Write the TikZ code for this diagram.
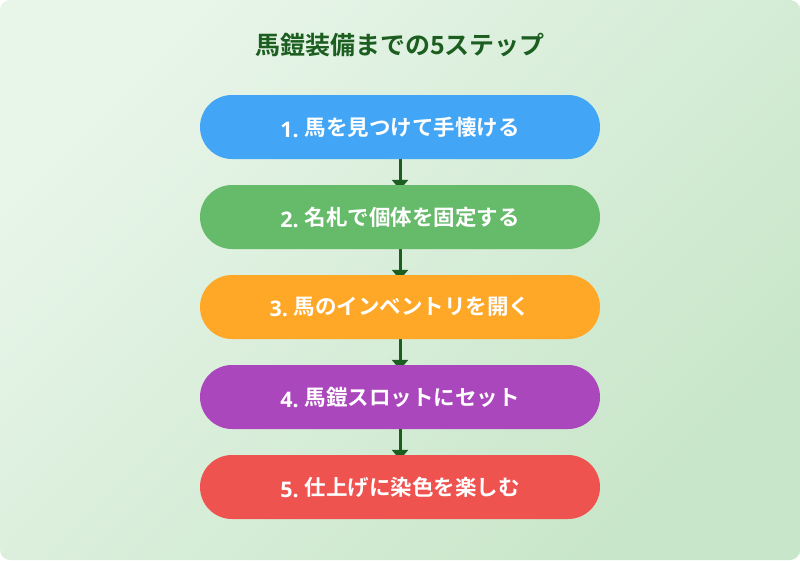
\documentclass[tikz,border=0pt]{standalone}
\usepackage{fontspec}
\newfontfamily\jpb{Noto Sans CJK JP Bold}
\newfontfamily\latb{Open Sans}[UprightFont=* Bold]
\usetikzlibrary{arrows.meta}
\definecolor{bgA}{HTML}{E8F5E9}
\definecolor{bgB}{HTML}{C8E6C9}
\definecolor{ttl}{HTML}{1B5E20}
\definecolor{cA}{HTML}{42A5F5}
\definecolor{cB}{HTML}{66BB6A}
\definecolor{cC}{HTML}{FFA726}
\definecolor{cD}{HTML}{AB47BC}
\definecolor{cE}{HTML}{EF5350}
\pgfdeclarelayer{bg}
\pgfdeclarelayer{mid}
\pgfsetlayers{bg,mid,main}
\tikzset{
  stepbox/.style={rounded corners=32pt, minimum width=400pt, minimum height=64pt, inner sep=0pt, text=white, font=\jpb\fontsize{21.5}{24}\selectfont},
  conn/.style={draw=ttl, line width=3pt, -{Triangle[width=16pt,length=10pt]}, shorten >=-5pt},
}
\newcommand{\num}[1]{\raisebox{-2pt}{\latb #1}\hspace{6pt}}
\begin{document}
\begin{tikzpicture}[x=1pt,y=-1pt]
\useasboundingbox (0,0) rectangle (800,560);
\begin{pgfonlayer}{bg}
\path[rounded corners=10pt, top color=bgA, bottom color=bgB, shading angle=45] (0,0) rectangle (800,560);
\end{pgfonlayer}
\node[text=ttl, font=\jpb\fontsize{25}{28}\selectfont] (title) at (400,45) {馬鎧装備までの5ステップ};
\node[stepbox, fill=cA] (s1) at (400,127) {\num{1.}馬を見つけて手懐ける};
\node[stepbox, fill=cB] (s2) at (400,217) {\num{2.}名札で個体を固定する};
\node[stepbox, fill=cC] (s3) at (400,307) {\num{3.}馬のインベントリを開く};
\node[stepbox, fill=cD] (s4) at (400,397) {\num{4.}馬鎧スロットにセット};
\node[stepbox, fill=cE] (s5) at (400,487) {\num{5.}仕上げに染色を楽しむ};
\begin{pgfonlayer}{mid}
\draw[conn] (s1) -- (s2);
\draw[conn] (s2) -- (s3);
\draw[conn] (s3) -- (s4);
\draw[conn] (s4) -- (s5);
\end{pgfonlayer}
\end{tikzpicture}
\end{document}
